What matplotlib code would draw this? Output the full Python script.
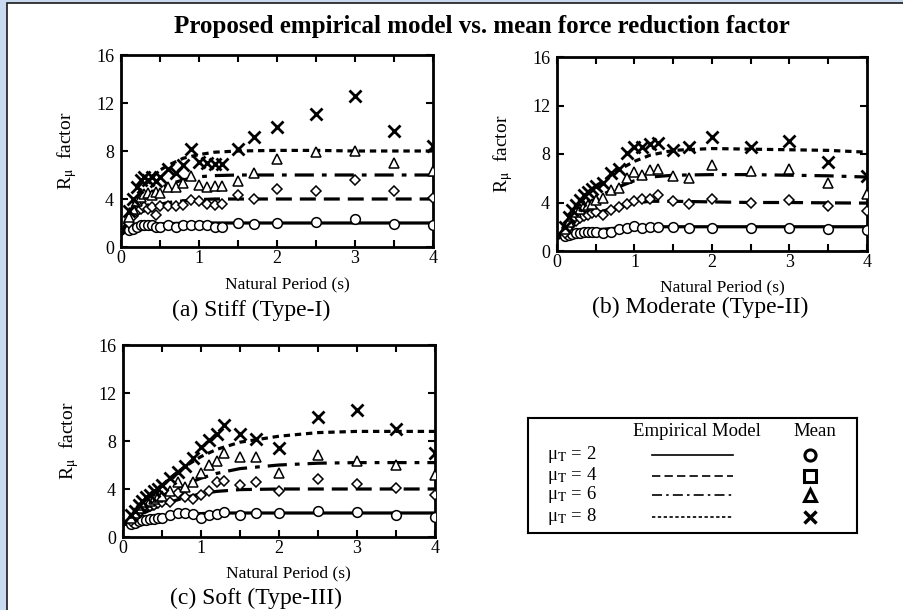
import matplotlib
matplotlib.use("Agg")
import matplotlib.pyplot as plt
from matplotlib.patches import Rectangle

plt.rcParams["font.family"] = ["Liberation Serif", "DejaVu Serif"]
plt.rcParams["mathtext.fontset"] = "stix"

# Periods where the mean R_mu was computed
periods = [0.1, 0.15, 0.2, 0.25, 0.3, 0.35, 0.4, 0.45, 0.5, 0.6, 0.7, 0.8,
           0.9, 1.0, 1.1, 1.2, 1.3, 1.5, 1.7, 2.0, 2.5, 3.0, 3.5, 4.0]

# Periods where the empirical model is tabulated
model_periods = [0.0, 0.1, 0.2, 0.3, 0.4, 0.5, 0.6, 0.8, 1.0, 1.2, 1.5,
                 2.0, 2.5, 3.0, 3.5, 4.0]

ductility = [2, 4, 6, 8]

# (a) Stiff (Type-I)
stiff_mean_2 = [1.4, 1.5, 1.7, 1.8, 1.8, 1.8, 1.8, 1.7, 1.7, 1.8, 1.7, 1.8,
                1.8, 1.8, 1.8, 1.7, 1.7, 2.0, 1.9, 2.0, 2.1, 2.3, 1.9, 1.8]
stiff_mean_4 = [2.0, 2.6, 3.0, 3.2, 3.3, 3.2, 3.3, 2.7, 3.4, 3.4, 3.4, 3.5,
                3.9, 3.8, 3.6, 3.5, 3.6, 4.3, 4.0, 4.8, 4.7, 5.6, 4.7, 4.1]
stiff_mean_6 = [2.5, 3.2, 3.8, 4.2, 4.4, 4.5, 4.3, 4.6, 4.5, 5.0, 5.0, 5.3,
                5.9, 5.2, 5.0, 5.1, 5.1, 5.5, 6.2, 7.3, 7.9, 8.0, 7.0, 6.3]
stiff_mean_8 = [3.0, 4.0, 5.0, 5.6, 5.8, 5.6, 5.8, 5.5, 5.8, 6.5, 6.2, 6.8,
                8.2, 7.1, 7.0, 6.9, 6.9, 8.2, 9.2, 10.0, 11.1, 12.6, 9.7, 8.4]
stiff_model_2 = [1.0, 1.5, 1.7, 1.8, 1.88, 1.92, 1.95, 1.98, 2.0, 2.0, 2.0,
                 2.0, 2.0, 2.0, 2.0, 2.0]
stiff_model_4 = [1.0, 2.0, 2.7, 3.1, 3.35, 3.55, 3.7, 3.85, 3.95, 4.0, 4.0,
                 4.0, 4.0, 4.0, 4.0, 4.0]
stiff_model_6 = [1.0, 2.6, 3.5, 4.1, 4.6, 4.9, 5.2, 5.6, 5.85, 5.95, 6.0,
                 6.0, 6.0, 6.0, 6.0, 6.0]
stiff_model_8 = [1.0, 3.0, 4.3, 5.2, 5.9, 6.4, 6.8, 7.4, 7.7, 7.9, 8.0,
                 8.05, 8.05, 8.0, 8.0, 8.0]

# (b) Moderate (Type-II)
moderate_mean_2 = [1.2, 1.3, 1.4, 1.5, 1.5, 1.6, 1.6, 1.6, 1.6, 1.5, 1.6, 1.8,
                   1.9, 2.1, 1.9, 2.0, 2.0, 2.0, 1.9, 1.9, 1.9, 1.9, 1.8, 1.7]
moderate_mean_4 = [1.5, 2.0, 2.3, 2.5, 2.7, 2.9, 3.0, 3.1, 3.2, 3.0, 3.4, 3.6,
                   3.9, 4.1, 4.3, 4.3, 4.6, 4.1, 3.9, 4.3, 4.0, 4.2, 3.7, 3.3]
moderate_mean_6 = [1.8, 2.4, 2.9, 3.2, 3.5, 3.7, 3.8, 3.9, 4.2, 4.4, 5.0, 5.2,
                   6.0, 6.5, 6.3, 6.7, 6.8, 6.2, 6.0, 7.1, 6.6, 6.8, 5.6, 4.7]
moderate_mean_8 = [2.0, 2.8, 3.4, 3.8, 4.2, 4.6, 4.9, 5.1, 5.4, 5.6, 6.4, 6.8,
                   8.1, 8.6, 8.6, 8.8, 8.9, 8.3, 8.6, 9.4, 8.6, 9.1, 7.3, 6.2]
moderate_model_2 = [1.0, 1.3, 1.5, 1.6, 1.7, 1.75, 1.8, 1.9, 1.95, 2.0, 2.0,
                    2.0, 2.0, 2.0, 2.0, 2.0]
moderate_model_4 = [1.0, 1.6, 2.1, 2.5, 2.8, 3.1, 3.3, 3.7, 3.95, 4.1, 4.1,
                    4.05, 4.0, 4.0, 3.97, 3.95]
moderate_model_6 = [1.0, 1.9, 2.7, 3.3, 3.8, 4.3, 4.7, 5.3, 5.8, 6.1, 6.25,
                    6.3, 6.3, 6.25, 6.2, 6.1]
moderate_model_8 = [1.0, 2.2, 3.2, 4.0, 4.7, 5.3, 5.8, 6.7, 7.4, 7.9, 8.3,
                    8.45, 8.4, 8.35, 8.3, 8.15]

# (c) Soft (Type-III)
soft_mean_2 = [1.1, 1.2, 1.3, 1.4, 1.4, 1.5, 1.5, 1.6, 1.6, 1.8, 2.0, 2.0,
               1.9, 1.6, 1.8, 1.9, 2.1, 1.8, 2.0, 2.0, 2.2, 2.1, 1.8, 1.7]
soft_mean_4 = [1.3, 1.7, 2.0, 2.3, 2.5, 2.6, 2.7, 2.8, 2.9, 2.9, 3.7, 3.3,
               3.2, 3.5, 3.8, 4.6, 4.7, 4.3, 4.6, 3.8, 4.8, 4.4, 4.1, 3.5]
soft_mean_6 = [1.6, 2.0, 2.4, 2.7, 2.9, 3.0, 3.2, 3.3, 3.4, 3.8, 4.6, 4.2,
               4.6, 5.3, 6.0, 6.3, 7.0, 6.7, 6.7, 5.3, 6.8, 6.3, 6.0, 5.2]
soft_mean_8 = [1.8, 2.2, 2.7, 3.0, 3.3, 3.5, 3.8, 4.0, 4.3, 4.9, 5.4, 5.9,
               6.6, 7.5, 8.1, 8.6, 9.3, 8.6, 8.2, 7.4, 10.0, 10.6, 9.0, 7.0]
soft_model_2 = [1.0, 1.2, 1.4, 1.55, 1.65, 1.75, 1.8, 1.9, 1.95, 2.0, 2.0,
                2.0, 2.0, 2.0, 2.0, 2.0]
soft_model_4 = [1.0, 1.4, 1.8, 2.1, 2.4, 2.7, 2.9, 3.3, 3.6, 3.8, 3.95,
                4.0, 4.0, 4.0, 4.0, 4.0]
soft_model_6 = [1.0, 1.6, 2.1, 2.6, 3.0, 3.4, 3.8, 4.4, 4.9, 5.3, 5.7,
                6.0, 6.15, 6.2, 6.2, 6.2]
soft_model_8 = [1.0, 1.7, 2.4, 3.1, 3.7, 4.3, 4.9, 5.9, 6.7, 7.3, 7.9,
                8.4, 8.7, 8.8, 8.8, 8.8]

panel_titles = ["(a) Stiff (Type-I)", "(b) Moderate (Type-II)", "(c) Soft (Type-III)"]

panels = [
    ([stiff_mean_2, stiff_mean_4, stiff_mean_6, stiff_mean_8],
     [stiff_model_2, stiff_model_4, stiff_model_6, stiff_model_8]),
    ([moderate_mean_2, moderate_mean_4, moderate_mean_6, moderate_mean_8],
     [moderate_model_2, moderate_model_4, moderate_model_6, moderate_model_8]),
    ([soft_mean_2, soft_mean_4, soft_mean_6, soft_mean_8],
     [soft_model_2, soft_model_4, soft_model_6, soft_model_8]),
]

line_styles = ["-", (0, (5, 2.5)), (0, (6, 2.5, 1.5, 2.5)), (0, (2, 1.5))]
plot_markers = ["o", "D", "^", "x"]
marker_sizes = [7, 5.5, 7, 8]
legend_markers = ["o", "s", "^", "x"]

W, H = 904, 610
fig = plt.figure(figsize=(W / 100, H / 100), dpi=100)
fig.patch.set_facecolor("#c9d9ef")
# white slide area behind everything
fig.add_artist(Rectangle((7 / W, -0.01), 1, 1.01 - 3 / H, transform=fig.transFigure,
                         facecolor="white", edgecolor="#1a1a1a", linewidth=1.2,
                         zorder=-5))

fig.text(482 / W, 1 - 26 / H, "Proposed empirical model vs. mean force reduction factor",
         ha="center", va="center", fontsize=18, fontweight="bold")

# axes boxes in pixels: left, top, right, bottom
boxes = [(121, 55, 433, 247), (557, 57, 867, 251), (123, 345, 435, 537)]
xlabel_pos = [(287, 284), (722, 287), (288, 573)]
title_pos = [(251, 310), (700, 307), (256, 598)]

for i, (means, models) in enumerate(panels):
    l, t, r, b = boxes[i]
    ax = fig.add_axes([l / W, 1 - b / H, (r - l) / W, (b - t) / H])
    for k in range(4):
        ax.plot(model_periods, models[k], color="black", lw=2.3,
                linestyle=line_styles[k], zorder=2)
    for k in range(4):
        if plot_markers[k] == "x":
            ax.plot(periods, means[k], linestyle="none", marker="x",
                    ms=marker_sizes[k], mew=2.0, color="black", zorder=3)
        else:
            ax.plot(periods, means[k], linestyle="none", marker=plot_markers[k],
                    ms=marker_sizes[k], mew=1.1, mfc="white", mec="black", zorder=3)
    ax.set_xlim(0, 4)
    ax.set_ylim(0, 16)
    ax.set_xticks([0, 1, 2, 3, 4])
    ax.set_xticks([0.5, 1.5, 2.5, 3.5], minor=True)
    ax.set_yticks([0, 4, 8, 12, 16])
    ax.tick_params(which="both", direction="in", top=True, right=True,
                   labelsize=13, width=1.5)
    ax.tick_params(axis="x", pad=2)
    ax.tick_params(axis="y", pad=5)
    ax.tick_params(which="major", length=5)
    ax.tick_params(which="minor", length=5)
    for s in ax.spines.values():
        s.set_linewidth(2.0)
    ax.set_ylabel(r"R$_{\mathrm{μ}}$  factor", fontsize=14, labelpad=12)
    fig.text(xlabel_pos[i][0] / W, 1 - xlabel_pos[i][1] / H, "Natural Period (s)",
             ha="center", va="center", fontsize=12.5)
    fig.text(title_pos[i][0] / W, 1 - title_pos[i][1] / H, panel_titles[i],
             ha="center", va="center", fontsize=17)

# legend box
lax = fig.add_axes([528 / W, 1 - 533 / H, (857 - 528) / W, (533 - 418) / H])
lax.set_xlim(528, 857)
lax.set_ylim(533, 418)
lax.set_xticks([])
lax.set_yticks([])
for s in lax.spines.values():
    s.set_linewidth(1.5)
lax.text(697, 432, "Empirical Model", ha="center", va="center", fontsize=13.5)
lax.text(815, 432, "Mean", ha="center", va="center", fontsize=13.5)
row_y = [455, 476, 495, 517]
for k in range(4):
    y = row_y[k]
    lax.text(547, y, r"μ$_{\mathrm{T}}$ = %d" % ductility[k], ha="left",
             va="center", fontsize=13.5)
    lax.plot([652, 733], [y, y], color="black", lw=1.2, linestyle=line_styles[k])
    if legend_markers[k] == "x":
        lax.plot([810], [y], marker="x", ms=8, mew=2.5, color="black")
    else:
        lax.plot([810], [y], marker=legend_markers[k], ms=8, mew=2.2,
                 mfc="white", mec="black")

fig.savefig("out.png", dpi=100, facecolor=fig.get_facecolor())
